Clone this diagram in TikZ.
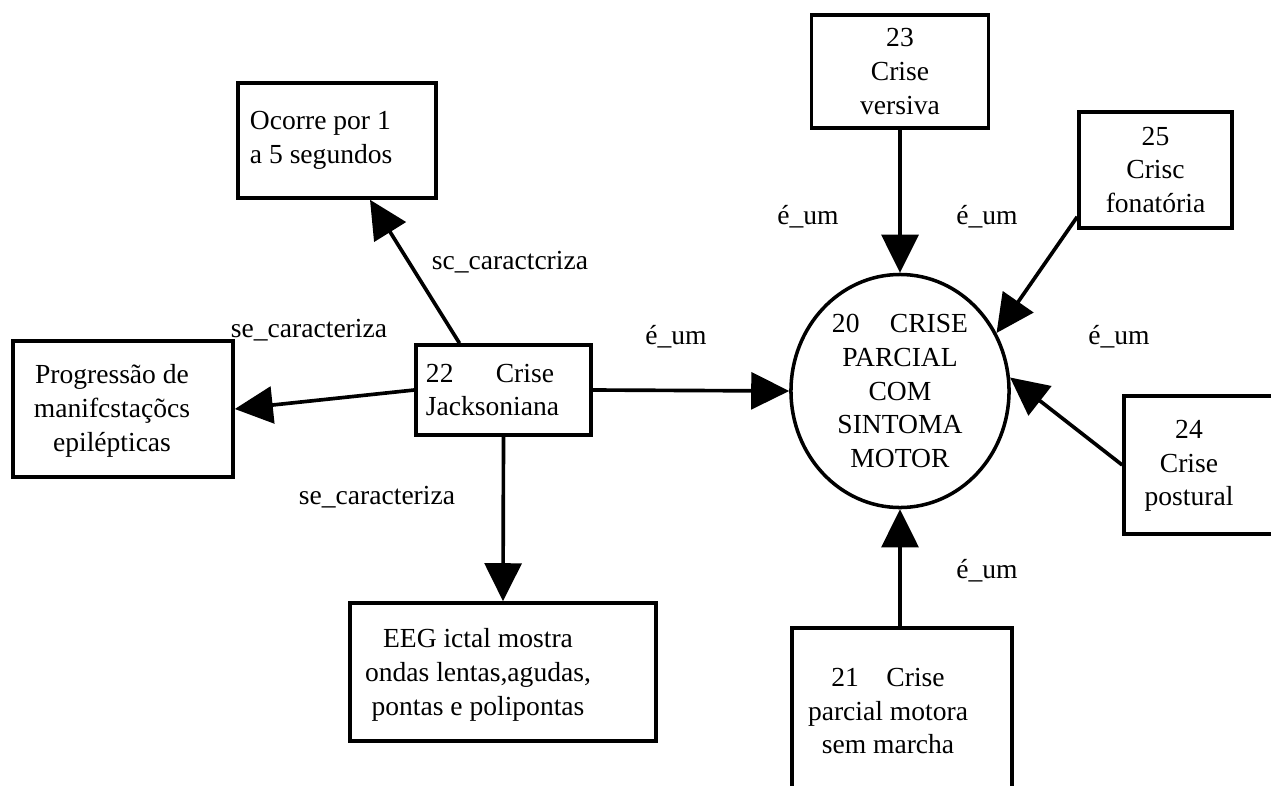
\documentclass[tikz,border=0pt]{standalone}
\usepackage{fontspec}
\setmainfont{Liberation Serif}
\usetikzlibrary{shapes.geometric, arrows.meta, calc}

\tikzset{
  concept/.style={rectangle, draw=black, line width=2.5pt, align=center, inner sep=0pt},
  mainconcept/.style={ellipse, draw=black, line width=2.5pt, align=center, inner sep=0pt,
    minimum width=5.45cm, minimum height=5.825cm},
  txt/.style={align=center, inner sep=0pt},
  rel/.style={inner sep=0pt},
  arrow/.style={-{Triangle[length=0.95cm, width=0.92cm]}, line width=2.6pt}
}

\begin{document}
\begin{tikzpicture}[x=0.025cm, y=-0.025cm, font=\fontsize{19.6pt}{24pt}\selectfont]
  \useasboundingbox (0,0) rectangle (1271,785);

  % central concept
  \node[mainconcept] (crise20) at (900,391)
    {\makebox[3.4cm]{20\hfill CRISE}\\PARCIAL\\COM\\SINTOMA\\MOTOR};

  % left part
  \node[concept, text width=3.875cm, inner xsep=0.25cm, align=flush left, minimum height=2.25cm]
    (crise22) at (503.5,390) {\makebox[3.2cm]{22\hfill Crise}\\Jacksoniana};
  \node[concept, text width=4.35cm, inner xsep=0.3cm, align=flush left, minimum height=2.875cm]
    (ocorre) at (337,140.5) {Ocorre por 1\\a 5 segundos};
  \node[concept, minimum width=5.5cm, minimum height=3.4cm] (progressao) at (123,409) {};
  \node[txt] (progressaoTxt) at (112,411) {Progressão de\\manifcstaçõcs\\epilépticas};
  \node[concept, minimum width=7.65cm, minimum height=3.45cm] (eeg) at (503,672) {};
  \node[txt] (eegTxt) at (478,675) {EEG ictal mostra\\ondas lentas,agudas,\\pontas e polipontas};

  % right part
  \node[concept, minimum width=4.425cm, minimum height=2.825cm] (crise23) at (900,71.5)
    {23\\Crise\\versiva};
  \node[concept, minimum width=3.825cm, minimum height=2.9cm] (crise25) at (1155.5,170)
    {25\\Crisc\\fonatória};
  \node[concept, minimum width=4.15cm, minimum height=3.45cm] (crise24) at (1207,465) {};
  \node[txt] (crise24Txt) at (1189,466) {24\\Crise\\postural};
  \node[concept, minimum width=5.5cm, minimum height=4.3cm] (crise21) at (902,714) {};
  \node[txt] (crise21Txt) at (888,711) {21\quad Crise\\parcial motora\\sem marcha};

  % relations
  \draw[arrow] ($(crise22.north)+(-44,0)$) -- ($(ocorre.south)+(33,0)$);
  \draw[arrow] (crise22.west) -- (progressao.east);
  \draw[arrow] (crise22.south) -- (eeg.north);
  \draw[arrow] (crise22.east) -- (crise20.west);
  \draw[arrow] (crise23.south) -- (crise20.north);
  \draw[arrow] ($(crise25.south west)+(0,-13)$) -- (crise20.31);
  \draw[arrow] (crise24.west) -- (crise20.7);
  \draw[arrow] (crise20.south |- crise21.north) -- (crise20.south);

  \node[rel] (scOcorre) at (510,262) {sc\_caractcriza};
  \node[rel] (seProg) at (309,330) {se\_caracteriza};
  \node[rel] (seEeg) at (377,497) {se\_caracteriza};
  \node[rel] (eum23) at (808,217) {é\_um};
  \node[rel] (eum25) at (987,217) {é\_um};
  \node[rel] (eum22) at (676,337) {é\_um};
  \node[rel] (eum24) at (1119,337) {é\_um};
  \node[rel] (eum21) at (987,571) {é\_um};
\end{tikzpicture}
\end{document}
